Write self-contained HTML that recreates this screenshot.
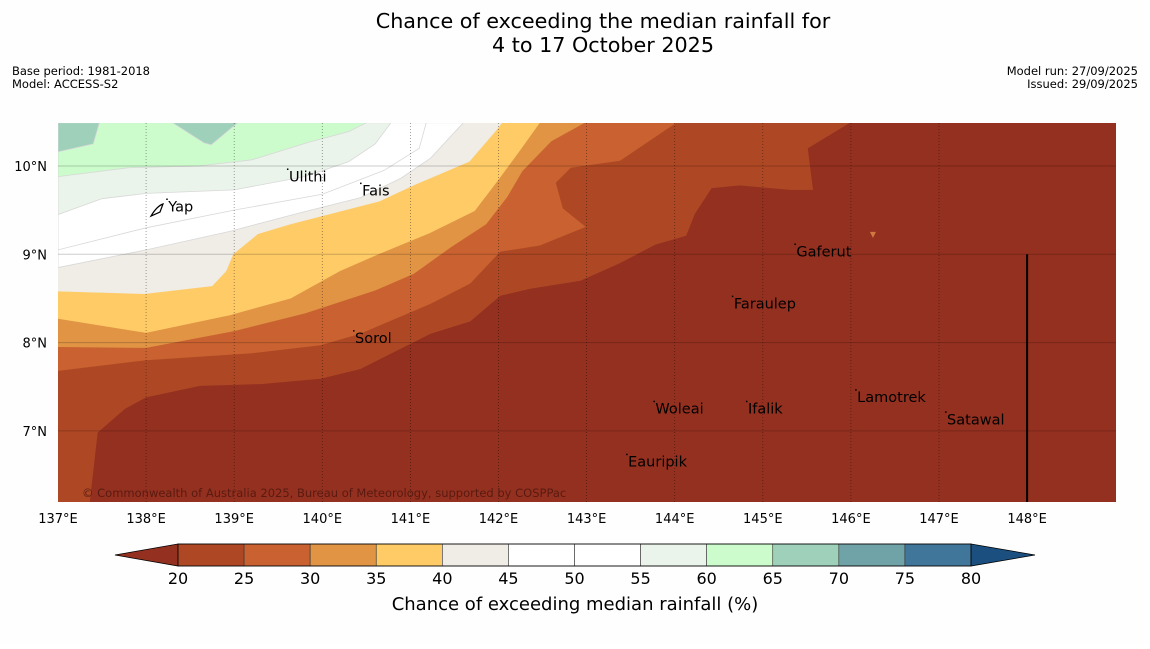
<!DOCTYPE html>
<html><head><meta charset="utf-8"><style>
body{margin:0;background:#fff;width:1150px;height:644px;overflow:hidden;font-family:"Liberation Sans","DejaVu Sans",sans-serif}
svg text{font-family:"DejaVu Sans","Liberation Sans",sans-serif}
</style></head><body>
<svg id="chart" width="1150" height="644" xmlns="http://www.w3.org/2000/svg">
<rect width="1150" height="644" fill="#fefefe"/>
<text x="603" y="28" font-size="20.7" text-anchor="middle" fill="#000">Chance of exceeding the median rainfall for</text>
<text x="603" y="52" font-size="20.7" text-anchor="middle" fill="#000">4 to 17 October 2025</text>
<text x="12" y="75" font-size="11.5" textLength="138">Base period: 1981-2018</text>
<text x="12" y="88" font-size="11.5">Model: ACCESS-S2</text>
<text x="1138" y="75" font-size="11.5" text-anchor="end">Model run: 27/09/2025</text>
<text x="1138" y="88" font-size="11.5" text-anchor="end">Issued: 29/09/2025</text>
<defs><clipPath id="mapclip"><rect x="58" y="123" width="1058" height="379"/></clipPath></defs>
<g id="map" clip-path="url(#mapclip)"></g>
<g id="axes"></g>
<g id="cbar"></g>
<text x="575" y="610" font-size="18" text-anchor="middle">Chance of exceeding median rainfall (%)</text>
</svg>
<script>
const NS="http://www.w3.org/2000/svg";
// ---- data ----
const levels=[20,25,30,35,40,45,50,55,60,65,70,75,80];
const levelColors=["#ae4824","#c96230","#e09444","#fecb66","#f0ece6","#ffffff","#ffffff","#eaf4ea","#ccfccc","#9ed0ba","#6fa3a8","#3f7699"];
const belowColor="#943020", aboveColor="#1a4f80";
const lonTicks=[137,138,139,140,141,142,143,144,145,146,147,148];
const latTicks=[10,9,8,7];
// contour boundaries as [lon,lat]; region above-left of each line has value >= level
const contours=[
 {level:20,pts:[[137.36,6.19],[137.45,6.98],[137.76,7.25],[138,7.38],[138.61,7.51],[139.3,7.53],[139.98,7.59],[140.43,7.7],[140.83,7.9],[141.23,8.1],[141.68,8.24],[142.02,8.53],[142.36,8.61],[142.93,8.7],[143.38,8.9],[143.78,9.11],[144.13,9.21],[144.23,9.46],[144.42,9.75],[144.74,9.78],[145.31,9.73],[145.57,9.73],[145.51,10.2],[145.99,10.49]]},
 {level:25,pts:[[137,7.68],[138,7.8],[139.2,7.88],[139.98,7.97],[140.43,8.1],[140.83,8.27],[141.23,8.44],[141.68,8.67],[142.02,9.03],[142.47,9.1],[142.99,9.31],[142.73,9.52],[142.65,9.81],[142.82,9.98],[143.38,10.06],[144.02,10.49]]},
 {level:30,pts:[[137,7.95],[138,7.94],[139,8.13],[139.8,8.33],[140.6,8.59],[141.04,8.78],[141.46,9.08],[141.86,9.34],[142.1,9.65],[142.27,9.94],[142.6,10.28],[142.98,10.49]]},
 {level:35,pts:[[137,8.27],[138,8.11],[138.95,8.31],[139.64,8.5],[140.2,8.81],[140.66,9.01],[141.22,9.24],[141.73,9.49],[141.99,9.83],[142.24,10.17],[142.47,10.49]]},
 {level:40,pts:[[137,8.58],[137.98,8.55],[138.75,8.64],[138.91,8.81],[138.99,9.0],[139.27,9.23],[139.64,9.34],[140.65,9.6],[141.06,9.79],[141.67,10.05],[141.99,10.42],[142.04,10.49]]},
 {level:45,pts:[[137,8.85],[138,9.05],[138.95,9.26],[139.75,9.47],[140.43,9.64],[140.89,9.86],[141.23,10.09],[141.6,10.49]]},
 {level:50,pts:[[137,9.05],[138,9.3],[139,9.5],[140,9.68],[140.7,9.95],[141.1,10.2],[141.18,10.49]]},
 {level:55,pts:[[137,9.45],[137.5,9.63],[138,9.69],[139,9.73],[139.8,9.88],[140.3,10.05],[140.6,10.25],[140.78,10.49]]},
 {level:60,pts:[[137,9.88],[137.8,9.98],[138.6,10.0],[139.2,10.07],[139.85,10.27],[140.3,10.39],[140.5,10.49]]},
 {level:65,pts:[[137,10.16],[137.4,10.25],[137.47,10.49]]}
];
const patch65=[[138.3,10.49],[138.66,10.26],[138.74,10.24],[139.04,10.49]];
const places=[["Yap",138.24,9.53,"yap"],["Ulithi",139.61,9.87,"ulithi"],["Fais",140.44,9.71,"fais"],["Gaferut",145.37,9.02,"gaferut"],["Faraulep",144.66,8.43,"faraulep"],["Sorol",140.36,8.04,"sorol"],["Woleai",143.77,7.24,"woleai"],["Ifalik",144.82,7.24,"ifalik"],["Lamotrek",146.06,7.37,"lamotrek"],["Satawal",147.08,7.12,"satawal"],["Eauripik",143.46,6.64,"eauripik"]];
// ---- axes ----
const X=lon=>58+(lon-137)*88.1;
const Y=lat=>166+(10-lat)*88.3;
const CBX=v=>178+(v-20)*(793/60);
function el(t,a,p){const e=document.createElementNS(NS,t);for(const k in a)e.setAttribute(k,a[k]);p.appendChild(e);return e;}
const map=document.getElementById('map');
el('rect',{x:58,y:123,width:1058,height:379,fill:belowColor},map);
contours.forEach((c,i)=>{
  const pts=c.pts.map(p=>X(p[0])+','+Y(p[1]));
  const first=c.pts[0];
  let d='M'+X(137)+','+Y(10.49)+' L'+X(137)+','+Y(first[0]===137?first[1]:6.19)+' L'+pts.join(' L')+' Z';
  const p=el('path',{d:d,fill:levelColors[levels.indexOf(c.level)],stroke:c.level>=45?'#d8d8d8':'none','stroke-width':0.8},map);
  
  
});
const p65=el('path',{d:'M'+patch65.map(p=>X(p[0])+','+Y(p[1])).join(' L')+' Z',fill:levelColors[levels.indexOf(65)],stroke:'#d8d8d8','stroke-width':0.8},map);


// island marker
el('path',{d:'M'+(X(146.25)-3)+','+(Y(9.22)-3)+' l6,0 l-3,6 Z',fill:'#d07a40'},map);
// gridlines
lonTicks.forEach(l=>{if(l>137&&l<148){const g=el('line',{x1:X(l),x2:X(l),y1:123,y2:502,stroke:'rgba(0,0,0,0.45)','stroke-width':0.8,'stroke-dasharray':'1,2'},map);}});
latTicks.forEach(l=>{const g=el('line',{x1:58,x2:1116,y1:Y(l),y2:Y(l),stroke:'rgba(0,0,0,0.2)','stroke-width':1},map);});
const b=el('line',{x1:X(148),x2:X(148),y1:Y(9),y2:502,stroke:'#000','stroke-width':2},map);


places.forEach(p=>{
  const t=el('text',{x:X(p[1])+1,y:Y(p[2])+4,'font-size':14.5,fill:'#000'},map);t.textContent=p[0];
  
  
  el('rect',{x:X(p[1])-1,y:Y(p[2])-9,width:1.5,height:1.5,fill:'#000'},map);
});
el('path',{d:'M151,216 q6,-10 12,-12 l-3,8 z',fill:'none',stroke:'#000','stroke-width':1.2},map);
const cp=el('text',{x:82,y:497,'font-size':11.5,fill:'#5a1a10'},map);cp.textContent='© Commonwealth of Australia 2025, Bureau of Meteorology, supported by COSPPac';


const axes=document.getElementById('axes');
lonTicks.forEach(l=>{const t=el('text',{x:X(l),y:523,'font-size':13,'text-anchor':'middle'},axes);t.textContent=l+'°E';});
latTicks.forEach(l=>{const t=el('text',{x:47,y:Y(l)+5,'font-size':13,'text-anchor':'end'},axes);t.textContent=l+'°N';});
// colorbar
const cb=document.getElementById('cbar');
el('path',{d:'M178,544 L115,555 L178,566 Z',fill:belowColor,stroke:'#000','stroke-width':0.8},cb);
el('path',{d:'M971,544 L1035,555 L971,566 Z',fill:aboveColor,stroke:'#000','stroke-width':0.8},cb);
for(let i=0;i<levels.length-1;i++){
  const r=el('rect',{x:CBX(levels[i]),y:544,width:CBX(levels[i+1])-CBX(levels[i]),height:22,fill:levelColors[i],stroke:'#333','stroke-width':0.6},cb);
  
  
}
el('rect',{x:178,y:544,width:793,height:22,fill:'none',stroke:'#000','stroke-width':0.8},cb);
levels.forEach(v=>{const t=el('text',{x:CBX(v),y:584,'font-size':16,'text-anchor':'middle'},cb);t.textContent=v;});
</script>
</body></html>
